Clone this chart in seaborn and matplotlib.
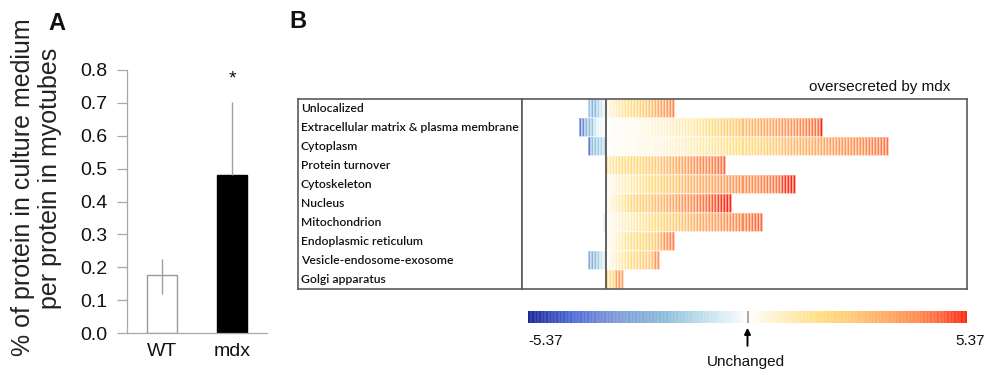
import numpy as np
import pandas as pd
import matplotlib
matplotlib.use("Agg")
import matplotlib.pyplot as plt
import seaborn as sns
from matplotlib.colors import LinearSegmentedColormap

# ---------------- data ----------------
groups = ["WT", "mdx"]
means = [0.175, 0.482]
err_lo = [0.055, 0.0]
err_hi = [0.05, 0.22]

categories = ["Unlocalized", "Extracellular matrix & plasma membrane", "Cytoplasm",
              "Protein turnover", "Cytoskeleton", "Nucleus", "Mitochondrion",
              "Endoplasmic reticulum", "Vesicle-endosome-exosome", "Golgi apparatus"]

# negative values listed from the zero line outward
unloc_neg = [-0.4, -0.9, -1.4, -2.1, -2.3, -1.8]
ecm_neg = [-0.1, -0.2, -0.4, -0.8, -1.8, -2.0, -2.2, -3.6, -4.0]
cyto_neg = [-1.2, -1.5, -1.7, -1.9, -2.0, -4.0]
pturn_neg = []
cytosk_neg = []
nucl_neg = []
mito_neg = [-0.5]
er_neg = []
ves_neg = [-0.6, -1.0, -1.6, -2.0, -2.4, -2.6]
golgi_neg = []

# positive values listed from the zero line outward
unloc_pos = [0.4, 0.6, 0.8, 1.0, 1.2, 1.3, 1.5, 1.6, 1.8, 1.9, 2.0, 2.2, 2.3, 2.5, 2.7,
             2.9, 3.1, 3.3, 3.5, 3.6, 3.8, 4.0, 4.2]
ecm_pos = [0.05, 0.08, 0.1, 0.12, 0.15, 0.18, 0.2, 0.22, 0.25, 0.3,
           0.33, 0.36, 0.4, 0.44, 0.48, 0.52, 0.56, 0.6, 0.65, 0.7,
           0.75, 0.8, 0.85, 0.9, 0.95, 1.0, 1.05, 1.1, 1.15, 1.2,
           1.3, 1.4, 1.5, 1.6, 1.7, 1.8, 1.9, 2.0, 2.1, 2.2,
           2.3, 2.4, 2.5, 2.6, 2.7, 2.8, 2.9, 3.0, 3.05, 3.1,
           3.15, 3.2, 3.3, 3.35, 3.4, 3.5, 3.55, 3.6, 3.7, 3.75,
           3.8, 3.85, 3.9, 4.0, 4.05, 4.1, 4.2, 4.3, 4.4, 4.5,
           4.6, 5.3]
cyto_pos = [0.05, 0.07, 0.09, 0.11, 0.13, 0.15, 0.17, 0.19, 0.21, 0.23,
            0.26, 0.29, 0.32, 0.35, 0.38, 0.41, 0.44, 0.47, 0.5, 0.54,
            0.58, 0.62, 0.66, 0.7, 0.75, 0.8, 0.85, 0.9, 0.95, 1.0,
            1.05, 1.1, 1.15, 1.2, 1.25, 1.3, 1.35, 1.4, 1.45, 1.5,
            1.55, 1.6, 1.65, 1.7, 1.75, 1.8, 1.85, 1.9, 1.95, 2.0,
            2.05, 2.1, 2.15, 2.2, 2.3, 2.4, 2.5, 2.6, 2.7, 2.8,
            2.85, 2.9, 2.95, 3.0, 3.05, 3.1, 3.15, 3.2, 3.25, 3.3,
            3.35, 3.4, 3.45, 3.5, 3.55, 3.6, 3.65, 3.7, 3.75, 3.8,
            3.85, 3.9, 3.95, 4.0, 4.05, 4.1, 4.15, 4.2, 4.25, 4.3,
            4.35, 4.4, 4.45, 4.5]
pturn_pos = [1.2, 1.3, 1.4, 1.5, 1.6, 1.7, 1.75, 1.8, 1.85, 1.9,
             1.95, 2.0, 2.1, 2.2, 2.3, 2.4, 2.5, 2.6, 2.7, 2.8,
             2.9, 3.0, 3.1, 3.2, 3.3, 3.4, 3.5, 3.6, 3.7, 3.8,
             3.9, 4.0, 4.05, 4.1, 4.15, 4.2, 4.3, 4.4, 4.5, 4.7]
cytosk_pos = [0.3, 0.4, 0.5, 0.6, 0.7, 0.8, 0.9, 1.0, 1.1, 1.2,
              1.3, 1.4, 1.5, 1.6, 1.7, 1.8, 1.9, 2.0, 2.1, 2.2,
              2.3, 2.4, 2.5, 2.6, 2.7, 2.8, 2.9, 3.0, 3.05, 3.1,
              3.15, 3.2, 3.25, 3.3, 3.35, 3.4, 3.45, 3.5, 3.55, 3.6,
              3.65, 3.7, 3.75, 3.8, 3.85, 3.9, 3.95, 4.0, 4.05, 4.1,
              4.15, 4.2, 4.25, 4.3, 4.35, 4.4, 4.5, 4.6, 5.0, 5.15,
              5.25, 5.3, 5.37]
nucl_pos = [0.3, 0.5, 0.7, 0.9, 1.1, 1.3, 1.5, 1.7, 1.9, 2.1,
            2.2, 2.3, 2.4, 2.5, 2.6, 2.7, 2.8, 2.9, 3.0, 3.1,
            3.2, 3.3, 3.4, 3.5, 3.6, 3.7, 3.8, 3.9, 4.0, 4.1,
            4.2, 4.3, 4.4, 4.5, 4.7, 4.85, 4.95, 5.05, 5.15, 5.25,
            5.3, 5.37]
mito_pos = [0.2, 0.3, 0.4, 0.5, 0.6, 0.7, 0.8, 0.9, 1.0, 1.1,
            1.2, 1.3, 1.4, 1.5, 1.6, 1.7, 1.8, 1.9, 2.0, 2.1,
            2.2, 2.3, 2.4, 2.5, 2.6, 2.7, 2.8, 2.9, 3.0, 3.1,
            3.2, 3.3, 3.35, 3.4, 3.45, 3.5, 3.55, 3.6, 3.7, 3.8,
            3.9, 4.0, 4.05, 4.1, 4.15, 4.2, 4.3, 4.4, 4.5, 4.55,
            4.6, 4.7]
er_pos = [0.2, 0.3, 0.5, 0.7, 0.9, 1.1, 1.3, 1.5, 1.6, 1.7, 1.8, 1.9, 2.0, 2.1,
          2.2, 2.3, 2.5, 2.8, 3.2, 3.8, 4.0, 4.2, 4.3]
ves_pos = [0.2, 0.4, 0.6, 0.8, 1.0, 1.2, 1.4, 1.6, 1.8, 1.9, 2.0, 2.1, 2.2, 2.3,
           2.5, 2.8, 3.8, 3.9]
golgi_pos = [1.6, 1.8, 2.0, 3.6, 3.8, 3.4]

neg_lists = [unloc_neg, ecm_neg, cyto_neg, pturn_neg, cytosk_neg, nucl_neg,
             mito_neg, er_neg, ves_neg, golgi_neg]
pos_lists = [unloc_pos, ecm_pos, cyto_pos, pturn_pos, cytosk_pos, nucl_pos,
             mito_pos, er_pos, ves_pos, golgi_pos]

VMAX = 5.37
N_NEG_COLS = 28
N_COLS = 148

# ---------------- style ----------------
sns.set_style("white")
plt.rcParams["font.family"] = ["Liberation Sans", "DejaVu Sans"]

W, H = 985, 373
fig = plt.figure(figsize=(W / 100, H / 100), dpi=100)


def rect(x0, y0, x1, y1):
    return [x0 / W, 1 - y1 / H, (x1 - x0) / W, (y1 - y0) / H]


# ---------------- panel A ----------------
axA = fig.add_axes(rect(127, 70, 267, 333))
sns.barplot(x=groups, y=means, hue=groups, palette=["white", "black"], legend=False,
            width=0.43, ax=axA, errorbar=None)
for p, ec in zip(axA.patches, ["#9a9a9a", "black"]):
    p.set_edgecolor(ec)
    p.set_linewidth(1.0)
axA.errorbar([0, 1], means, yerr=[err_lo, err_hi], fmt="none", ecolor="#a0a0a0",
             elinewidth=1.0, capsize=0)
axA.set_ylim(0, 0.8)
axA.set_xlim(-0.5, 1.5)
axA.set_yticks(np.arange(0, 0.81, 0.1))
axA.set_yticklabels([f"{v:.1f}" for v in np.arange(0, 0.81, 0.1)])
axA.tick_params(axis="y", which="both", left=True, length=7, width=0.9, color="#a8a8a8",
                labelsize=14, pad=7, labelcolor="#111111")
axA.tick_params(axis="x", bottom=False, labelsize=14, pad=4, labelcolor="#111111")
for s in ["top", "right"]:
    axA.spines[s].set_visible(False)
for s in ["left", "bottom"]:
    axA.spines[s].set_color("#a8a8a8")
    axA.spines[s].set_linewidth(0.9)
axA.set_xlabel("")
axA.set_ylabel("")
axA.text(1, 0.772, "*", ha="center", va="center", fontsize=14, color="#111111")

fig.text(23 / W, 1 - 187 / H, "% of protein in culture medium",
         rotation=90, ha="center", va="center", fontsize=18, color="#222222")
fig.text(50 / W, 1 - 178 / H, "per protein in myotubes",
         rotation=90, ha="center", va="center", fontsize=18, color="#222222")
fig.text(57 / W, 1 - 24 / H, "A", ha="center", va="center", fontsize=17,
         fontweight="bold", color="#111111")
fig.text(298 / W, 1 - 22 / H, "B", ha="center", va="center", fontsize=17,
         fontweight="bold", color="#111111")

# ---------------- panel B ----------------
cmap = LinearSegmentedColormap.from_list(
    "oversec",
    [((-5.37 + VMAX) / (2 * VMAX), "#1c2a9c"),
     ((-4.3 + VMAX) / (2 * VMAX), "#4f6ad8"),
     ((-3.3 + VMAX) / (2 * VMAX), "#7d98d6"),
     ((-2.0 + VMAX) / (2 * VMAX), "#8cbedc"),
     ((-1.0 + VMAX) / (2 * VMAX), "#c4e2ee"),
     ((-0.2 + VMAX) / (2 * VMAX), "#f2f8fb"),
     (0.5, "#ffffff"),
     ((0.3 + VMAX) / (2 * VMAX), "#fff9ea"),
     ((1.0 + VMAX) / (2 * VMAX), "#ffecb6"),
     ((1.8 + VMAX) / (2 * VMAX), "#ffde80"),
     ((2.6 + VMAX) / (2 * VMAX), "#ffc976"),
     ((3.3 + VMAX) / (2 * VMAX), "#ffae66"),
     ((4.2 + VMAX) / (2 * VMAX), "#ff8a50"),
     ((4.8 + VMAX) / (2 * VMAX), "#ff6438"),
     (1.0, "#ff2a14")], N=128)

M = np.full((len(categories), N_COLS), np.nan)
for i, (neg, pos) in enumerate(zip(neg_lists, pos_lists)):
    for j, v in enumerate(neg):
        M[i, N_NEG_COLS - 1 - j] = v
    for j, v in enumerate(pos):
        M[i, N_NEG_COLS + j] = v
df = pd.DataFrame(M, index=categories)

axL = fig.add_axes(rect(298, 99, 522, 289))
axB = fig.add_axes(rect(522, 99, 967, 289))
cax = fig.add_axes(rect(528, 311, 967, 323))

sns.heatmap(df, ax=axB, cmap=cmap, vmin=-VMAX, vmax=VMAX, linewidths=0.25,
            linecolor=(1, 1, 1, 0.4), xticklabels=False, yticklabels=False,
            cbar=True, cbar_ax=cax,
            cbar_kws=dict(orientation="horizontal", drawedges=True))
axB.axvline(N_NEG_COLS, color="#555555", lw=1.3)
for ax in (axB, axL):
    for s in ax.spines.values():
        s.set_visible(True)
        s.set_color("#5a5a5a")
        s.set_linewidth(1.2)

axL.set_xlim(0, 1)
axL.set_ylim(len(categories), 0)
axL.set_xticks([])
axL.set_yticks([])
for i, c in enumerate(categories):
    axL.text(0.012, i + 0.5, c, ha="left", va="center", fontsize=8.7,
             family=["Lato", "DejaVu Sans"], fontweight="semibold", color="#111111")

fig.text(950 / W, 1 - 87 / H, "oversecreted by mdx", ha="right", va="center",
         fontsize=11, color="#111111")

cb = axB.collections[0].colorbar
cb.outline.set_visible(False)
cb.dividers.set_color((1, 1, 1, 0.5))
cb.dividers.set_linewidth(0.3)
cb.set_ticks([])
cax.axvline(0, color="#9a9a9a", lw=1.2)

cax.annotate("", xy=(0, -0.4), xytext=(0, -1.9), xycoords=("data", "axes fraction"),
             textcoords=("data", "axes fraction"),
             arrowprops=dict(arrowstyle="-|>", color="black", lw=1.4, mutation_scale=9,
                             shrinkA=0, shrinkB=0))
fig.text(528 / W, 1 - 341 / H, "-5.37", ha="left", va="center", fontsize=11, color="#111111")
fig.text(955 / W, 1 - 341 / H, "5.37", ha="left", va="center", fontsize=11, color="#111111")
fig.text(746 / W, 1 - 362 / H, "Unchanged", ha="center", va="center", fontsize=11,
         color="#111111")

fig.savefig("out.png", dpi=100)
